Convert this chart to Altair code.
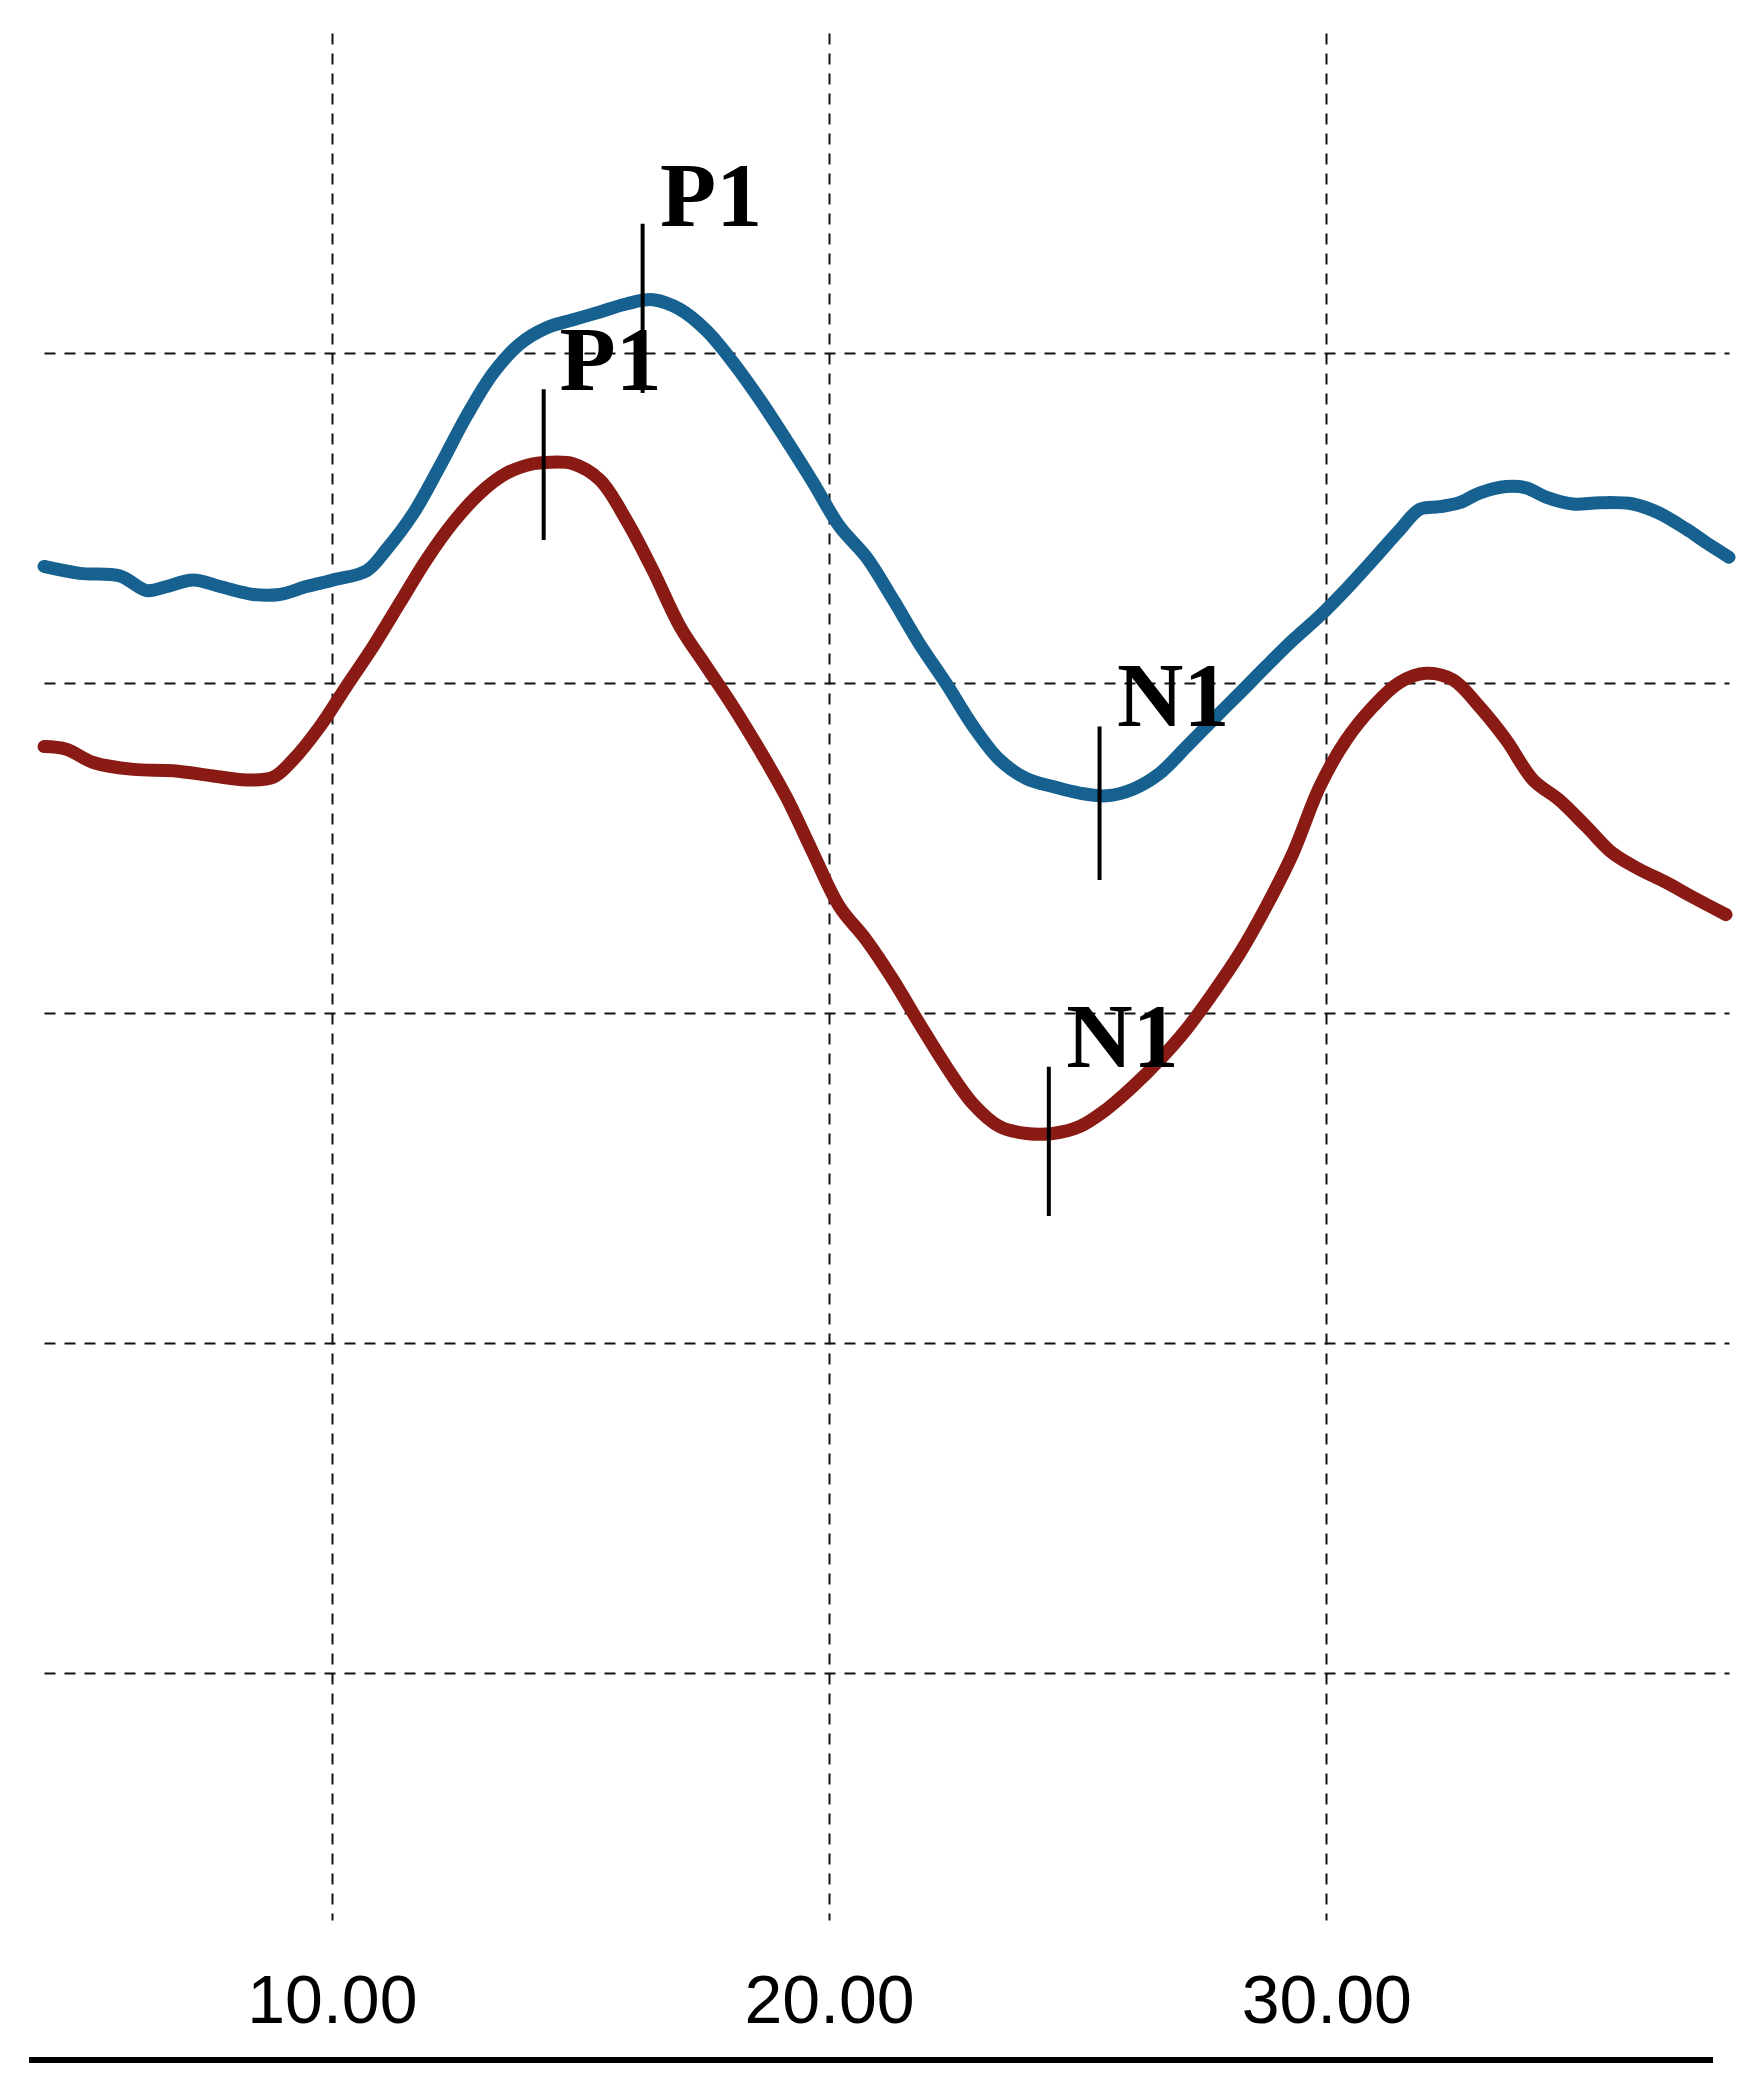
import altair as alt
import pandas as pd

# ---- data ----
blue_x = [4.21, 4.93, 5.74, 6.27, 6.68, 7.21, 7.75, 8.42, 8.95, 9.49, 10.03, 10.70, 11.10, 11.64,
          12.17, 12.71, 13.24, 13.78, 14.32, 14.85, 15.39, 15.92, 16.46, 17.00, 17.53, 18.07,
          18.61, 19.14, 19.68, 20.21, 20.75, 21.29, 21.82, 22.36, 22.90, 23.43, 23.97, 24.50,
          25.04, 25.58, 26.11, 26.65, 27.19, 27.72, 28.26, 28.79, 29.33, 29.87, 30.40, 30.94,
          31.47, 31.88, 32.28, 32.68, 33.08, 33.62, 34.02, 34.42, 34.96, 35.50, 36.17, 36.70,
          37.24, 37.64, 38.10]
blue_y = [3.354, 3.333, 3.325, 3.281, 3.293, 3.313, 3.293, 3.269, 3.269, 3.293, 3.313, 3.341,
          3.406, 3.515, 3.657, 3.810, 3.939, 4.028, 4.077, 4.101, 4.125, 4.149, 4.162, 4.133,
          4.069, 3.972, 3.859, 3.737, 3.608, 3.475, 3.382, 3.253, 3.119, 2.998, 2.869, 2.768,
          2.711, 2.687, 2.667, 2.659, 2.679, 2.727, 2.808, 2.889, 2.970, 3.051, 3.131, 3.204,
          3.285, 3.374, 3.463, 3.527, 3.535, 3.547, 3.576, 3.596, 3.592, 3.564, 3.543, 3.547,
          3.543, 3.515, 3.467, 3.426, 3.382]

red_x = [4.21, 4.66, 5.20, 6.01, 6.81, 7.61, 8.28, 8.82, 9.22, 9.76, 10.29, 10.83, 11.37, 11.90,
         12.44, 12.98, 13.51, 14.05, 14.32, 14.85, 15.39, 15.92, 16.46, 17.00, 17.53, 18.07,
         18.61, 19.14, 19.68, 20.21, 20.75, 21.29, 21.82, 22.36, 22.90, 23.43, 23.97, 24.50,
         25.04, 25.58, 26.11, 26.65, 27.19, 27.72, 28.26, 28.79, 29.33, 29.87, 30.40, 30.94,
         31.47, 32.01, 32.55, 33.08, 33.62, 34.16, 34.69, 35.23, 35.76, 36.30, 36.84, 37.37,
         38.04]
red_y = [2.808, 2.800, 2.760, 2.739, 2.735, 2.719, 2.707, 2.715, 2.768, 2.869, 2.990, 3.111,
         3.244, 3.374, 3.487, 3.576, 3.636, 3.665, 3.669, 3.665, 3.616, 3.495, 3.341, 3.172,
         3.051, 2.929, 2.796, 2.655, 2.485, 2.323, 2.222, 2.101, 1.968, 1.838, 1.725, 1.657,
         1.636, 1.636, 1.657, 1.709, 1.778, 1.859, 1.952, 2.061, 2.182, 2.323, 2.485, 2.687,
         2.828, 2.929, 3.002, 3.030, 3.010, 2.929, 2.828, 2.707, 2.646, 2.566, 2.485, 2.436,
         2.396, 2.352, 2.299]

# peak markers (vertical bars) and their labels
marker_x = [14.26, 16.25, 25.44, 24.42]
marker_top = [3.891, 4.392, 2.869, 1.838]
marker_bottom = [3.434, 3.879, 2.404, 1.386]
label_text = ["P1", "P1", "N1", "N1"]
label_x = [14.58, 16.60, 25.79, 24.77]
label_y = [3.887, 4.384, 2.869, 1.838]

x_ticks = [10, 20, 30]
y_grid = [0, 1, 2, 3, 4]
x_domain = [4.21, 38.10]
y_domain = [-0.747, 4.970]

blue_df = pd.DataFrame({"x": blue_x, "y": blue_y})
red_df = pd.DataFrame({"x": red_x, "y": red_y})
mark_df = pd.DataFrame({"x": marker_x, "y": marker_top, "y2": marker_bottom})
lab_df = pd.DataFrame({"x": label_x, "y": label_y, "t": label_text})

xs = alt.Scale(domain=x_domain, nice=False, zero=False)
ys = alt.Scale(domain=y_domain, nice=False, zero=False)

x_axis = alt.Axis(values=x_ticks, format=".2f", grid=True, gridDash=[11, 9], gridColor="#111111",
                  gridWidth=2, gridOpacity=1, domain=False, ticks=False, labelFontSize=68,
                  labelFont="Liberation Sans", labelColor="#000000", labelPadding=48, title=None)
y_axis = alt.Axis(values=y_grid, grid=True, gridDash=[11, 9], gridColor="#111111", gridWidth=2,
                  gridOpacity=1, domain=False, ticks=False, labels=False, title=None)

base_x = alt.X("x:Q", scale=xs, axis=x_axis)
base_y = alt.Y("y:Q", scale=ys, axis=y_axis)

blue = alt.Chart(blue_df).mark_line(color="#16618f", strokeWidth=13, interpolate="catmull-rom",
                                    strokeCap="round").encode(x=base_x, y=base_y)
red = alt.Chart(red_df).mark_line(color="#891b14", strokeWidth=13, interpolate="catmull-rom",
                                  strokeCap="round").encode(x="x:Q", y="y:Q")
marks = alt.Chart(mark_df).mark_rule(color="#000000", strokeWidth=4).encode(
    x="x:Q", y="y:Q", y2="y2:Q")
labels = alt.Chart(lab_df).mark_text(align="left", baseline="alphabetic", font="Liberation Serif",
                                     fontWeight="bold", fontSize=92, color="#000000").encode(
    x="x:Q", y="y:Q", text="t:N")
bottom_line = alt.Chart(blue_df).mark_rule(color="#000000", strokeWidth=5).encode(
    x=alt.value(-15), x2=alt.value(1669), y=alt.value(2027))

chart = alt.layer(blue, red, marks, labels, bottom_line).properties(
    width=1685, height=1887,
    autosize=alt.AutoSizeParams(type="none"),
    padding={"left": 36, "top": 25, "right": 20, "bottom": 160},
).configure_view(stroke=None)

chart.save("out.html", embed_options={"renderer": "svg", "actions": False})
